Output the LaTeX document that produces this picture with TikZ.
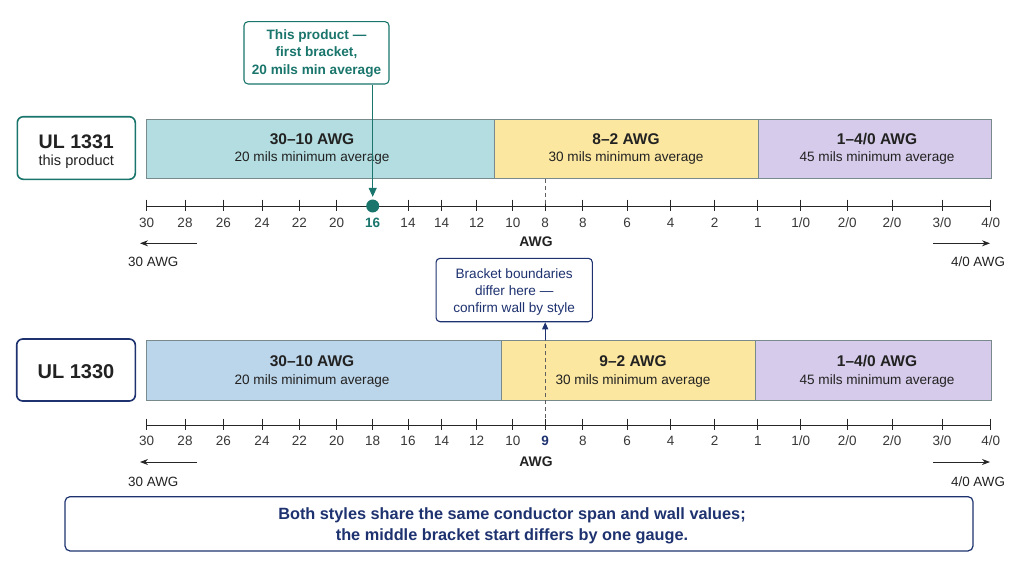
\documentclass[tikz,border=0pt]{standalone}
\usepackage{fontspec}
\setmainfont{Liberation Sans}
\usetikzlibrary{arrows.meta}
\definecolor{tealfill}{RGB}{179,221,224}
\definecolor{yelfill}{RGB}{252,231,160}
\definecolor{purfill}{RGB}{214,203,234}
\definecolor{bluefill}{RGB}{187,213,234}
\definecolor{barline}{RGB}{120,138,140}
\definecolor{tealc}{RGB}{26,118,108}
\definecolor{navyc}{RGB}{30,50,112}
\definecolor{txt}{RGB}{34,34,34}
\definecolor{dashc}{RGB}{95,95,95}
\tikzset{
  bar/.style={draw=barline, line width=0.8pt},
  btitle/.style={font=\fontsize{15.5}{18}\selectfont\bfseries, text=txt, inner sep=0pt},
  bsub/.style={font=\fontsize{13.6}{16}\selectfont, text=txt, inner sep=0pt},
  lbl/.style={font=\fontsize{13.5}{16}\selectfont, text=txt!90, inner sep=0pt},
  lblT/.style={lbl, font=\fontsize{13.5}{16}\selectfont\bfseries, text=tealc},
  lblN/.style={lbl, font=\fontsize{13.5}{16}\selectfont\bfseries, text=navyc},
  ulbox/.style={rounded corners=6pt, line width=1.6pt, fill=white},
  tickln/.style={line width=0.9pt, black!85},
  endarrow/.style={-{Stealth[length=8pt,width=6pt]}, line width=0.8pt, black!85},
}
\begin{document}
\begin{tikzpicture}[x=1pt,y=-1pt]
\useasboundingbox (0,0) rectangle (1024,563);

% ---------- UL 1331 ----------
\node[ulbox, draw=tealc, minimum width=118pt, minimum height=62.6pt] (ul1) at (76.3,148) {};
\node[font=\fontsize{19.6}{22}\selectfont\bfseries, text=txt, inner sep=0pt] (ul1t) at (76.3,141.7) {UL 1331};
\node[font=\fontsize{14.6}{17}\selectfont, text=txt, inner sep=0pt] (ul1s) at (76.3,162) {this product};

\draw[bar, fill=tealfill] (146.7,119) rectangle (494.5,178.7);
\draw[bar, fill=yelfill] (494.5,119) rectangle (757.9,178.7);
\draw[bar, fill=purfill] (757.9,119) rectangle (991,178.7);
\node[btitle] (a1) at (312,139.3) {30–10 AWG};
\node[bsub] (a2) at (312,158.3) {20 mils minimum average};
\node[btitle] (b1) at (626,139.3) {8–2 AWG};
\node[bsub] (b2) at (626,158.3) {30 mils minimum average};
\node[btitle] (c1) at (877,139.3) {1–4/0 AWG};
\node[bsub] (c2) at (877,158.3) {45 mils minimum average};

% axis top
\draw[line width=1pt, black!85] (146.7,206) -- (990.8,206);
\foreach \x/\l/\s in {146.7/30/lbl,185/28/lbl,223.3/26/lbl,262/24/lbl,299.3/22/lbl,336.7/20/lbl,372.7/16/lblT,408/14/lbl,441.7/14/lbl,476.7/12/lbl,512.8/10/lbl,545.2/8/lbl,582.9/8/lbl,627.1/6/lbl,670.7/4/lbl,714.7/2/lbl,757.9/1/lbl,800.8/{1/0}/lbl,847.2/{2/0}/lbl,892.1/{2/0}/lbl,942/{3/0}/lbl,990.8/{4/0}/lbl}{
  \draw[tickln] (\x,199.5) -- (\x,210.5);
  \node[\s] at (\x,222.5) {\l};
}
\draw[dashc, line width=0.9pt, dash pattern=on 4pt off 3pt] (545.2,178.7) -- (545.2,206);
\node[font=\fontsize{13.9}{16}\selectfont\bfseries, text=txt, inner sep=0pt] (awg1) at (536,242) {AWG};
\coordinate (l1a) at (196.7,243.3);
\coordinate (l1b) at (140,243.3);
\draw[endarrow] (l1a) -- (l1b);
\coordinate (r1a) at (933,243.3);
\coordinate (r1b) at (990,243.3);
\draw[endarrow] (r1a) -- (r1b);
\node[font=\fontsize{13.4}{16}\selectfont, text=txt, inner sep=0pt] (t30a) at (153.3,262) {30 AWG};
\node[font=\fontsize{13.4}{16}\selectfont, text=txt, inner sep=0pt] (t40a) at (978,262) {4/0 AWG};

% callout top
\node[draw=tealc, line width=1.1pt, rounded corners=4pt, fill=white, minimum width=145pt, minimum height=62.3pt] (call) at (316.5,52.8) {};
\node[font=\fontsize{13.6}{17.5}\selectfont\bfseries, text=tealc, align=center, inner sep=0pt] (callt) at (316.5,53.5) {This product —\\first bracket,\\20 mils min average};
\node[circle, fill=tealc, minimum size=13pt, inner sep=0pt] (dot) at (372.7,206) {};
\draw[tealc, line width=1.1pt, -{Triangle[length=9pt,width=8pt]}, shorten >=2.5pt] (call.south -| dot) -- (dot.north);

% ---------- UL 1330 ----------
\node[ulbox, draw=navyc, minimum width=118.6pt, minimum height=62pt] (ul2) at (76,370) {};
\node[font=\fontsize{20}{22}\selectfont\bfseries, text=txt, inner sep=0pt] (ul2t) at (76,371.2) {UL 1330};

\draw[bar, fill=bluefill] (146.7,340) rectangle (501,400.7);
\draw[bar, fill=yelfill] (501,340) rectangle (755.5,400.7);
\draw[bar, fill=purfill] (755.5,340) rectangle (991,400.7);
\node[btitle] (d1) at (312,360.7) {30–10 AWG};
\node[bsub] (d2) at (312,380.7) {20 mils minimum average};
\node[btitle] (e1) at (633,360.7) {9–2 AWG};
\node[bsub] (e2) at (633,380.7) {30 mils minimum average};
\node[btitle] (f1) at (877,360.7) {1–4/0 AWG};
\node[bsub] (f2) at (877,380.7) {45 mils minimum average};

% axis bottom
\draw[line width=1pt, black!85] (146.7,425) -- (990.8,425);
\foreach \x/\l/\s in {146.7/30/lbl,185/28/lbl,223.3/26/lbl,262/24/lbl,299.3/22/lbl,336.7/20/lbl,372.7/18/lbl,408/16/lbl,441.7/14/lbl,476.7/12/lbl,512.8/10/lbl,545.2/9/lblN,582.9/8/lbl,627.1/6/lbl,670.7/4/lbl,714.7/2/lbl,757.9/1/lbl,800.8/{1/0}/lbl,847.2/{2/0}/lbl,892.1/{2/0}/lbl,942/{3/0}/lbl,990.8/{4/0}/lbl}{
  \draw[tickln] (\x,418.5) -- (\x,429.5);
  \node[\s] at (\x,441) {\l};
}
\node[font=\fontsize{13.9}{16}\selectfont\bfseries, text=txt, inner sep=0pt] (awg2) at (536,462) {AWG};
\coordinate (l2a) at (196.7,462);
\coordinate (l2b) at (140,462);
\draw[endarrow] (l2a) -- (l2b);
\coordinate (r2a) at (933,462);
\coordinate (r2b) at (990,462);
\draw[endarrow] (r2a) -- (r2b);
\node[font=\fontsize{13.4}{16}\selectfont, text=txt, inner sep=0pt] (t30b) at (153.3,481.5) {30 AWG};
\node[font=\fontsize{13.4}{16}\selectfont, text=txt, inner sep=0pt] (t40b) at (978,481.5) {4/0 AWG};

% bracket callout
\node[draw=navyc, line width=1.1pt, rounded corners=4pt, fill=white, minimum width=156.3pt, minimum height=63.4pt] (brk) at (514.2,290) {};
\node[font=\fontsize{13.6}{17.2}\selectfont, text=navyc, align=center, inner sep=0pt] (brkt) at (514.2,292.2) {Bracket boundaries\\differ here —\\confirm wall by style};
\coordinate (g9) at (545.2,418);
\coordinate (g9top) at (545.2,340);
\draw[dashc, line width=0.9pt, dash pattern=on 4pt off 3pt] (g9) -- (g9top);
\draw[navyc, line width=1pt, -{Triangle[length=7pt,width=6pt]}] (g9top) -- (brk.south -| g9top);

% note
\node[draw=navyc, line width=1.2pt, rounded corners=5pt, fill=white, minimum width=908pt, minimum height=54.3pt] (note) at (519,523.8) {};
\node[font=\fontsize{16.3}{20.7}\selectfont\bfseries, text=navyc, align=center, inner sep=0pt] (notet) at (512,525.5) {Both styles share the same conductor span and wall values;\\the middle bracket start differs by one gauge.};
\end{tikzpicture}
\end{document}
